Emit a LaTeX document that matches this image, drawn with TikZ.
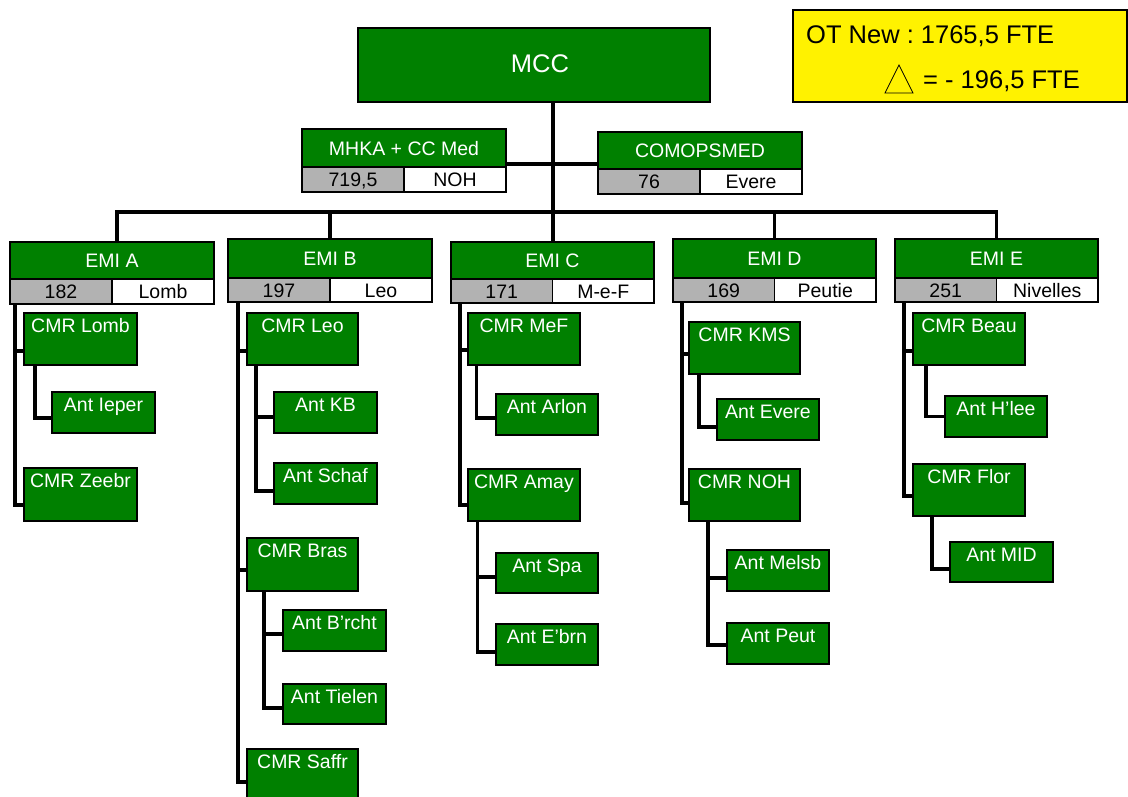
\documentclass[tikz,border=0pt]{standalone}
\usepackage{fontspec}
\setmainfont{Liberation Sans}
\frenchspacing
\definecolor{ogreen}{RGB}{0,128,0}
\definecolor{ogray}{RGB}{178,178,178}
\newcommand\unitbox[6]{%
  \node[unit, minimum width={(#4-#2)*1pt}, minimum height={(#5-#3)*1pt}] (#1) at (#2,#3) {};
  \node[wlabel] (#1-t) at ([yshift=-19pt]#1.north) {#6};}
\newcommand\headbox[9]{%
  \node[frame, minimum width={(#4-#2)*1pt}, minimum height={(#6-#3)*1pt}] (#1) at (#2,#3) {};
  \node[unit, minimum width={(#4-#2)*1pt}, minimum height={(#5-#3)*1pt}] (#1-h) at (#2,#3) {};
  \node[numcell, minimum width={(#4-#2)*0.5pt}, minimum height={(#6-#5)*1pt}] (#1-n) at (#2,#5) {};
  \node[loccell, minimum width={(#4-#2)*0.5pt}, minimum height={(#6-#5)*1pt}] (#1-l) at (#1-n.north east) {};
  \node[wlabel] (#1-ht) at ([yshift=-7pt]#1-h.center) {#7};
  \node[blabel] (#1-nt) at ([yshift=-7pt]#1-n.center) {#8};
  \node[blabel] (#1-lt) at ([yshift=-7pt]#1-l.center) {#9};}
\begin{document}
\begin{tikzpicture}[x=1pt,y=-1pt,
  frame/.style={draw=black, line width=1.1pt, inner sep=0pt, outer sep=0pt, anchor=north west},
  unit/.style={frame, fill=ogreen},
  numcell/.style={frame, fill=ogray},
  loccell/.style={frame, fill=white},
  wlabel/.style={text=white, font=\fontsize{19.5}{22}\selectfont, inner sep=0pt, anchor=base},
  blabel/.style={text=black, font=\fontsize{19.5}{22}\selectfont, inner sep=0pt, anchor=base},
  link/.style={draw=black, line width=3.2pt}]
\useasboundingbox (0,0) rectangle (1128,796);

% top
\node[unit, minimum width=352pt, minimum height=74pt] (mcc) at (358,28) {};
\node[wlabel, font=\fontsize{25.5}{30}\selectfont] (mcc-t) at (540,72) {MCC};

\node[frame, fill=yellow, minimum width=334pt, minimum height=92pt] (ot) at (793,10) {};
\node[anchor=base west, inner sep=0pt, font=\fontsize{25.5}{28}\selectfont] (ot1) at (806,43) {OT New : 1765,5 FTE};
\draw[line width=0.8pt] (885,93) -- (899,65) -- (913,93) -- cycle;
\node[anchor=base west, inner sep=0pt, font=\fontsize{25.5}{28}\selectfont] (ot2) at (923,88) {= - 196,5 FTE};

\headbox{mhka}{302}{129}{506}{167}{192}{MHKA + CC Med}{719,5}{NOH}
\headbox{comops}{598}{132}{802}{169}{194}{COMOPSMED}{76}{Evere}

\headbox{emiA}{10}{242}{214}{279}{304}{EMI A}{182}{Lomb}
\headbox{emiB}{228}{239}{432}{278}{302}{EMI B}{197}{Leo}
\headbox{emiC}{451}{242}{654}{279}{303}{EMI C}{171}{M-e-F}
\headbox{emiD}{673}{239}{876}{278}{302}{EMI D}{169}{Peutie}
\headbox{emiE}{895}{239}{1098}{278}{302}{EMI E}{251}{Nivelles}

\unitbox{cmrLomb}{24}{313}{137}{365}{CMR Lomb}
\unitbox{antIeper}{52}{392}{155}{433}{Ant Ieper}
\unitbox{cmrZeebr}{24}{468}{137}{521}{CMR Zeebr}

\unitbox{cmrLeo}{247}{313}{358}{365}{CMR Leo}
\unitbox{antKB}{274}{392}{377}{433}{Ant KB}
\unitbox{antSchaf}{274}{463}{377}{504}{Ant Schaf}
\unitbox{cmrBras}{247}{538}{358}{591}{CMR Bras}
\unitbox{antBrcht}{283}{610}{386}{651}{Ant B’rcht}
\unitbox{antTielen}{283}{684}{386}{724}{Ant Tielen}
\unitbox{cmrSaffr}{247}{749}{358}{801}{CMR Saffr}

\unitbox{cmrMeF}{468}{313}{580}{365}{CMR MeF}
\unitbox{antArlon}{496}{394}{598}{435}{Ant Arlon}
\unitbox{cmrAmay}{468}{469}{580}{521}{CMR Amay}
\unitbox{antSpa}{496}{553}{598}{593}{Ant Spa}
\unitbox{antEbrn}{496}{624}{598}{665}{Ant E’brn}

\unitbox{cmrKMS}{689}{322}{800}{374}{CMR KMS}
\unitbox{antEvere}{717}{399}{819}{440}{Ant Evere}
\unitbox{cmrNOH}{689}{469}{800}{521}{CMR NOH}
\unitbox{antMelsb}{727}{550}{829}{591}{Ant Melsb}
\unitbox{antPeut}{727}{623}{829}{664}{Ant Peut}

\unitbox{cmrBeau}{913}{313}{1025}{365}{CMR Beau}
\unitbox{antHlee}{945}{396}{1047}{437}{Ant H’lee}
\unitbox{cmrFlor}{913}{464}{1025}{516}{CMR Flor}
\unitbox{antMID}{950}{542}{1053}{582}{Ant MID}

% top connectors
\coordinate (bar) at (553,212);
\draw[link] ([xshift=19pt]mcc.south) -- ([xshift=19pt]mcc.south |- emiC.north);
\draw[link] ([xshift=5pt]emiA.north) |- (bar) -| (emiE.north);
\draw[link] (emiB.north) -- (emiB.north |- bar);
\draw[link] (emiD.north) -- (emiD.north |- bar);
\draw[link] ([yshift=-3.5pt]mhka.east) -- ([yshift=-3.5pt]mhka.east -| comops.west);

% EMI A
\draw[link] ([xshift=5pt]emiA.south west) |- ([yshift=-10.5pt]cmrZeebr.west);
\draw[link] ([xshift=5pt]emiA.south west) |- ([yshift=-12pt]cmrLomb.west);
\draw[link] ([xshift=11pt]cmrLomb.south west) |- ([yshift=-5.5pt]antIeper.west);
% EMI B
\draw[link] ([xshift=10pt]emiB.south west) |- ([yshift=-7pt]cmrSaffr.west);
\draw[link] ([xshift=10pt]emiB.south west) |- ([yshift=-12pt]cmrLeo.west);
\draw[link] ([xshift=10pt]emiB.south west) |- ([yshift=-5.5pt]cmrBras.west);
\draw[link] ([xshift=9pt]cmrLeo.south west) |- ([yshift=-7.5pt]antSchaf.west);
\draw[link] ([xshift=9pt]cmrLeo.south west) |- ([yshift=-4.5pt]antKB.west);
\draw[link] ([xshift=17pt]cmrBras.south west) |- ([yshift=-4pt]antTielen.west);
\draw[link] ([xshift=17pt]cmrBras.south west) |- ([yshift=-3.5pt]antBrcht.west);
% EMI C
\draw[link] ([xshift=9pt]emiC.south west) |- ([yshift=-10pt]cmrAmay.west);
\draw[link] ([xshift=9pt]emiC.south west) |- ([yshift=-11pt]cmrMeF.west);
\draw[link] ([xshift=8.5pt]cmrMeF.south west) |- ([yshift=-3.5pt]antArlon.west);
\draw[link] ([xshift=9.5pt]cmrAmay.south west) |- ([yshift=-7.5pt]antEbrn.west);
\draw[link] ([xshift=9.5pt]cmrAmay.south west) |- ([yshift=-4pt]antSpa.west);
% EMI D
\draw[link] ([xshift=9pt]emiD.south west) |- ([yshift=-8pt]cmrNOH.west);
\draw[link] ([xshift=9pt]emiD.south west) |- ([yshift=-6pt]cmrKMS.west);
\draw[link] ([xshift=10pt]cmrKMS.south west) |- ([yshift=-7.5pt]antEvere.west);
\draw[link] ([xshift=19pt]cmrNOH.south west) |- ([yshift=-1.5pt]antPeut.west);
\draw[link] ([xshift=19pt]cmrNOH.south west) |- ([yshift=-7.5pt]antMelsb.west);
% EMI E
\draw[link] ([xshift=9pt]emiE.south west) |- ([yshift=-6pt]cmrFlor.west);
\draw[link] ([xshift=9pt]emiE.south west) |- ([yshift=-12pt]cmrBeau.west);
\draw[link] ([xshift=13pt]cmrBeau.south west) |- (antHlee.west);
\draw[link] ([xshift=19pt]cmrFlor.south west) |- ([yshift=-7pt]antMID.west);
\end{tikzpicture}
\end{document}
